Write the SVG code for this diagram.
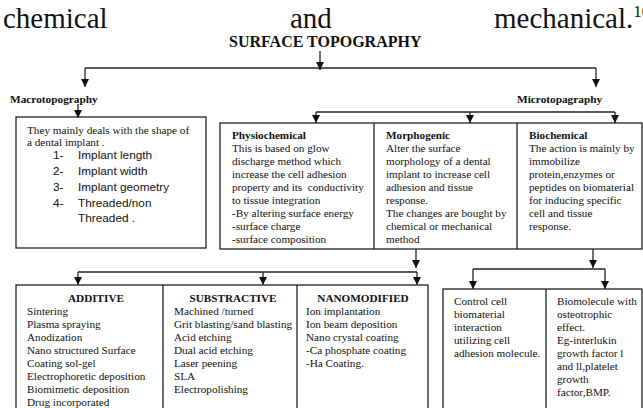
<svg xmlns="http://www.w3.org/2000/svg" width="643" height="408" viewBox="0 0 643 408">
<defs>
<marker id="ah" viewBox="0 0 10 10" refX="10" refY="5" markerWidth="8" markerHeight="9" markerUnits="userSpaceOnUse" orient="auto">
<path d="M0,0 L10,5 L0,10 z" fill="#111"/>
</marker>
</defs>
<style>
.t{font-family:"Liberation Serif","Times New Roman",serif;font-size:11.2px;fill:#111}
.b{font-weight:bold}
.s{font-family:"Liberation Sans",Arial,sans-serif;font-size:11.8px;fill:#111}
.box{fill:none;stroke:#222;stroke-width:1.3}
.c{stroke:#222;stroke-width:1.3;fill:none}
.a{stroke:#222;stroke-width:1.3;fill:none;marker-end:url(#ah)}
</style>
<rect width="643" height="408" fill="#fff"/>

<g id="header-text">
<text class="t" x="3" y="28" style="font-size:29px">chemical</text>
<text class="t" x="290" y="28" style="font-size:29px">and</text>
<text class="t" x="494" y="28" style="font-size:29px">mechanical.<tspan dy="-11" style="font-size:17px">10</tspan></text>
</g>

<g id="title">
<text class="t b" x="229" y="47" style="font-size:16px">SURFACE TOPOGRAPHY</text>
</g>

<g id="connectors">
<line class="a" x1="320" y1="51" x2="320" y2="70"/>
<line class="c" x1="85" y1="68" x2="596" y2="68"/>
<line class="a" x1="85" y1="68" x2="85" y2="87"/>
<line class="a" x1="596" y1="68" x2="596" y2="87"/>
<line class="a" x1="78" y1="104" x2="78" y2="118"/>
<line class="c" x1="316" y1="112" x2="615" y2="112"/>
<line class="a" x1="316" y1="112" x2="316" y2="123"/>
<line class="a" x1="470" y1="112" x2="470" y2="123"/>
<line class="a" x1="615" y1="112" x2="615" y2="123"/>
<line class="a" x1="416" y1="249" x2="416" y2="268"/>
<line class="c" x1="78" y1="272" x2="417" y2="272"/>
<line class="a" x1="78" y1="272" x2="78" y2="285"/>
<line class="a" x1="263" y1="272" x2="263" y2="285"/>
<line class="a" x1="417" y1="272" x2="417" y2="285"/>
<line class="a" x1="593" y1="249" x2="593" y2="268"/>
<line class="c" x1="473" y1="269" x2="605" y2="269"/>
<line class="a" x1="473" y1="269" x2="473" y2="289"/>
<line class="a" x1="605" y1="269" x2="605" y2="289"/>
</g>

<g id="macrotopography">
<text class="t b" x="10" y="103" style="font-size:11.3px">Macrotopography</text>
<rect class="box" x="16" y="117" width="190" height="131"/>
<text class="t" x="27" y="134">They mainly deals with the shape of</text>
<text class="t" x="27" y="146">a dental implant .</text>
<text class="s" x="53" y="159">1-</text><text class="s" x="78" y="159">Implant length</text>
<text class="s" x="53" y="175">2-</text><text class="s" x="78" y="175">Implant width</text>
<text class="s" x="53" y="191">3-</text><text class="s" x="78" y="191">Implant geometry</text>
<text class="s" x="53" y="207">4-</text><text class="s" x="78" y="207">Threaded/non</text>
<text class="s" x="78" y="222">Threaded .</text>
</g>

<g id="microtopography">
<text class="t b" x="517" y="103" style="font-size:11.3px">Microtopagraphy</text>
</g>

<g id="micro-boxes">
<rect class="box" x="220" y="123" width="422" height="126"/>
<line class="c" x1="374" y1="123" x2="374" y2="249"/>
<line class="c" x1="517" y1="123" x2="517" y2="249"/>
</g>

<g id="physiochemical">
<text class="t b" x="232" y="139">Physiochemical</text>
<text class="t" x="232" y="152">This is based on glow</text>
<text class="t" x="232" y="165">discharge method which</text>
<text class="t" x="232" y="178">increase the cell adhesion</text>
<text class="t" x="232" y="191" style="white-space:pre">property and its  conductivity</text>
<text class="t" x="232" y="204">to tissue integration</text>
<text class="t" x="232" y="217">-By altering surface energy</text>
<text class="t" x="232" y="230">-surface charge</text>
<text class="t" x="232" y="243">-surface composition</text>
</g>

<g id="morphogenic">
<text class="t b" x="386" y="139">Morphogenic</text>
<text class="t" x="386" y="152">Alter the surface</text>
<text class="t" x="386" y="165">morphology of a dental</text>
<text class="t" x="386" y="178">implant to increase cell</text>
<text class="t" x="386" y="191">adhesion and tissue</text>
<text class="t" x="386" y="204">response.</text>
<text class="t" x="386" y="217">The changes are bought by</text>
<text class="t" x="386" y="230">chemical or mechanical</text>
<text class="t" x="386" y="243">method</text>
</g>

<g id="biochemical">
<text class="t b" x="529" y="139">Biochemical</text>
<text class="t" x="529" y="152">The action is mainly by</text>
<text class="t" x="529" y="165">immobilize</text>
<text class="t" x="529" y="178">protein,enzymes or</text>
<text class="t" x="529" y="191">peptides on biomaterial</text>
<text class="t" x="529" y="204">for inducing specific</text>
<text class="t" x="529" y="217">cell and tissue</text>
<text class="t" x="529" y="230">response.</text>
</g>

<g id="morph-boxes">
<rect class="box" x="16" y="285" width="412" height="130"/>
<line class="c" x1="163" y1="285" x2="163" y2="410"/>
<line class="c" x1="297" y1="285" x2="297" y2="410"/>
</g>

<g id="additive">
<text class="t b" x="96" y="302" text-anchor="middle">ADDITIVE</text>
<text class="t" x="27" y="315">Sintering</text>
<text class="t" x="27" y="328">Plasma spraying</text>
<text class="t" x="27" y="341">Anodization</text>
<text class="t" x="27" y="354">Nano structured Surface</text>
<text class="t" x="27" y="367">Coating sol-gel</text>
<text class="t" x="27" y="380">Electrophoretic deposition</text>
<text class="t" x="27" y="393">Biomimetic deposition</text>
<text class="t" x="27" y="406">Drug incorporated</text>
</g>

<g id="substractive">
<text class="t b" x="233" y="302" text-anchor="middle">SUBSTRACTIVE</text>
<text class="t" x="174" y="315">Machined /turned</text>
<text class="t" x="174" y="328">Grit blasting/sand blasting</text>
<text class="t" x="174" y="341">Acid etching</text>
<text class="t" x="174" y="354">Dual acid etching</text>
<text class="t" x="174" y="367">Laser peening</text>
<text class="t" x="174" y="380">SLA</text>
<text class="t" x="174" y="393">Electropolishing</text>
</g>

<g id="nanomodified">
<text class="t b" x="363" y="302" text-anchor="middle">NANOMODIFIED</text>
<text class="t" x="306" y="315">Ion implantation</text>
<text class="t" x="306" y="328">Ion beam deposition</text>
<text class="t" x="306" y="341">Nano crystal coating</text>
<text class="t" x="306" y="354">-Ca phosphate coating</text>
<text class="t" x="306" y="367">-Ha Coating.</text>
</g>

<g id="bio-boxes">
<rect class="box" x="443" y="289" width="199" height="126"/>
<line class="c" x1="546" y1="289" x2="546" y2="410"/>
</g>

<g id="cell-adhesion">
<text class="t" x="454" y="305">Control cell</text>
<text class="t" x="454" y="318">biomaterial</text>
<text class="t" x="454" y="331">interaction</text>
<text class="t" x="454" y="344">utilizing cell</text>
<text class="t" x="454" y="357">adhesion molecule.</text>
</g>

<g id="biomolecule">
<text class="t" x="557" y="305">Biomolecule with</text>
<text class="t" x="557" y="318">osteotrophic</text>
<text class="t" x="557" y="331">effect.</text>
<text class="t" x="557" y="344">Eg-interlukin</text>
<text class="t" x="557" y="357">growth factor l</text>
<text class="t" x="557" y="370">and ll,platelet</text>
<text class="t" x="557" y="383">growth</text>
<text class="t" x="557" y="396">factor,BMP.</text>
</g>
</svg>
